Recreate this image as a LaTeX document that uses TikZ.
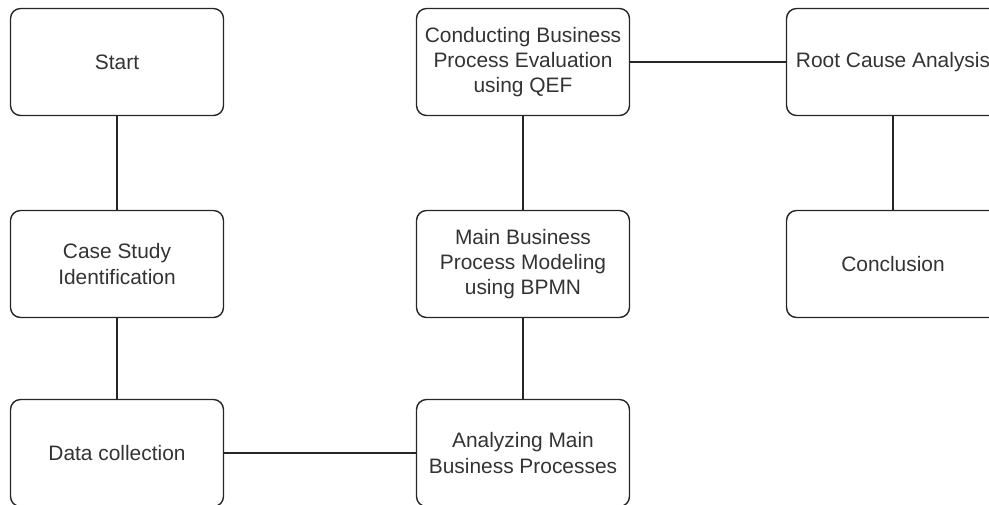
\documentclass[tikz,border=0pt]{standalone}
\usepackage{fontspec}
\setmainfont{Liberation Sans}
\usepackage{tikz}
\usetikzlibrary{positioning}

\tikzset{
  stepbox/.style={draw=black!85,line width=0.8pt,rounded corners=0.2cm,
    minimum width=4.26cm,minimum height=2.14cm,align=center,
    text=black!80,font=\fontsize{11.9}{14.4}\selectfont,inner sep=0pt},
  link/.style={draw=black!85,line width=0.8pt}
}

\begin{document}
\begin{tikzpicture}[x=0.02cm,y=-0.02cm]

  % canvas
  \useasboundingbox (0,0) rectangle (989,504);

  % left column
  \node[stepbox] (start) at (117,62) {Start};
  \node[stepbox] (case) at (117,264) {Case Study\\Identification};
  \node[stepbox] (data) at (117,453) {Data collection};

  % middle column
  \node[stepbox] (eval) at (523,62) {Conducting Business\\Process Evaluation\\using QEF};
  \node[stepbox] (model) at (523,264) {Main Business\\Process Modeling\\using BPMN};
  \node[stepbox] (analyze) at (523,453) {Analyzing Main\\Business Processes};

  % right column
  \node[stepbox] (root) at (893,62) {Root Cause Analysis};
  \node[stepbox] (concl) at (893,264) {Conclusion};

  % connectors
  \draw[link] (start) -- (case);
  \draw[link] (case) -- (data);
  \draw[link] (data) -- (analyze);
  \draw[link] (analyze) -- (model);
  \draw[link] (model) -- (eval);
  \draw[link] (eval) -- (root);
  \draw[link] (root) -- (concl);

\end{tikzpicture}
\end{document}
